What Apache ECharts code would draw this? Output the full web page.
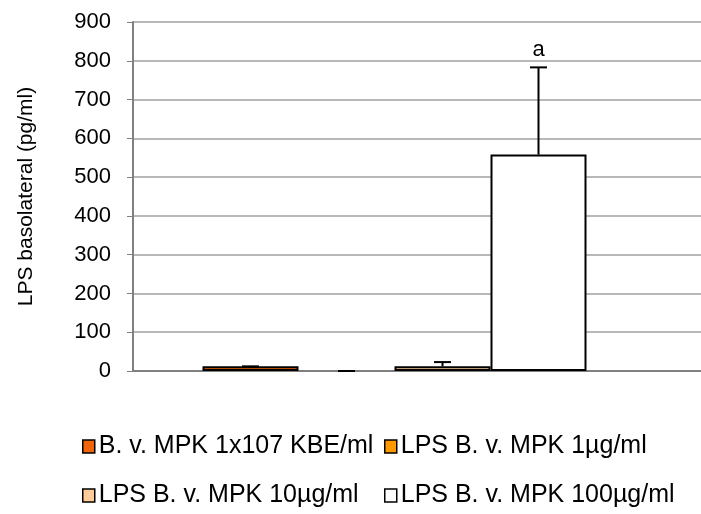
<!DOCTYPE html>
<html>
<head>
<meta charset="utf-8">
<script src="https://cdn.jsdelivr.net/npm/echarts@6/dist/echarts.min.js"></script>
<style>
html,body{margin:0;padding:0;background:#fff;}
#c{width:701px;height:514px;}
</style>
</head>
<body>
<div id="c"></div>
<script>
// ---- data ----
const categories = [''];
const seriesNames = ['B. v. MPK 1x107 KBE/ml', 'LPS B. v. MPK 1\u00b5g/ml', 'LPS B. v. MPK 10\u00b5g/ml', 'LPS B. v. MPK 100\u00b5g/ml'];
const seriesValues = [12, 0, 12, 558];
const seriesErrors = [0, 0, 11, 225];
const annotations = ['', '', '', 'a'];
const yTicks = [0, 100, 200, 300, 400, 500, 600, 700, 800, 900];
const colors = ['#F0640A', '#FF9900', '#FFCC99', '#FFFFFF'];

const FONT = 'Liberation Sans, Arial, sans-serif';
const BAR_W = 96;
const chart = echarts.init(document.getElementById('c'), null, {renderer: 'canvas'});

const gridTop = 22, gridBottom = 143;

const barSeries = seriesNames.map((n, i) => ({
  name: n,
  type: 'bar',
  xAxisIndex: 0,
  yAxisIndex: 0,
  barWidth: BAR_W,
  barGap: '0%',
  data: [{value: seriesValues[i], itemStyle: {borderWidth: seriesValues[i] === 0 ? 0 : 2}}],
  itemStyle: {color: colors[i], borderColor: '#000', borderWidth: 2},
  emphasis: {disabled: true},
  animation: false
}));

const errData = seriesValues.map((v, i) => [0, v, seriesErrors[i], i]);

const errSeries = {
  type: 'custom',
  xAxisIndex: 0,
  yAxisIndex: 0,
  z: 5,
  animation: false,
  encode: {x: 0, y: 1},
  data: errData,
  renderItem: function (params, api) {
    const val = api.value(1), err = api.value(2), idx = api.value(3);
    const base = api.coord([0, val]);
    const top = api.coord([0, val + err]);
    const x = base[0] + (idx - (seriesNames.length - 1) / 2) * BAR_W;
    const children = [
      {type: 'line', shape: {x1: x, y1: base[1], x2: x, y2: top[1]}, style: {stroke: '#000', lineWidth: 2}},
      {type: 'line', shape: {x1: x - 8.5, y1: top[1], x2: x + 8.5, y2: top[1]}, style: {stroke: '#000', lineWidth: 2}}
    ];
    if (annotations[idx]) {
      children.push({type: 'text', x: x, y: top[1] - 6, style: {text: annotations[idx], textAlign: 'center', textVerticalAlign: 'bottom', font: '22px ' + FONT, fill: '#000'}});
    }
    return {type: 'group', children: children};
  }
};

const legendPos = [
  {left: 82, top: 434},
  {left: 384, top: 434},
  {left: 82, top: 483},
  {left: 384, top: 483}
];

const option = {
  backgroundColor: '#fff',
  animation: false,
  grid: [
    {left: 133, right: 45, top: gridTop, bottom: gridBottom},
    {left: 133, right: -60, top: gridTop, bottom: gridBottom}
  ],
  legend: seriesNames.map((n, i) => ({
    data: [n],
    left: legendPos[i].left,
    top: legendPos[i].top,
    icon: 'rect',
    itemWidth: 12,
    itemHeight: 13,
    itemGap: 0,
    padding: 0,
    selectedMode: false,
    itemStyle: {borderColor: '#000', borderWidth: 1.5},
    textStyle: {fontFamily: FONT, fontSize: 25, color: '#000', padding: [0, 0, 0, -1]}
  })),
  xAxis: [
    {type: 'category', gridIndex: 0, data: categories, show: false},
    {type: 'category', gridIndex: 1, data: categories,
     axisLine: {show: true, lineStyle: {color: '#808080', width: 2}},
     axisTick: {show: false},
     axisLabel: {show: false}, splitLine: {show: false}}
  ],
  yAxis: [
    {type: 'value', gridIndex: 0, min: 0, max: 900, interval: 100, show: false, splitLine: {show: false}},
    {type: 'value', gridIndex: 1, min: yTicks[0], max: yTicks[yTicks.length - 1], interval: 100,
     name: 'LPS basolateral (pg/ml)', nameLocation: 'middle', nameGap: 96,
     nameTextStyle: {fontFamily: FONT, fontSize: 21, color: '#000'},
     axisLine: {show: true, lineStyle: {color: '#808080', width: 2}},
     axisTick: {show: true, inside: false, length: 6, lineStyle: {color: '#808080', width: 1}},
     axisLabel: {fontFamily: FONT, fontSize: 22, color: '#000', margin: 22},
     splitLine: {show: true, lineStyle: {color: '#A0A0A0', width: 1.5}}}
  ],
  series: barSeries.concat([errSeries])
};
chart.setOption(option);
</script>
</body>
</html>
